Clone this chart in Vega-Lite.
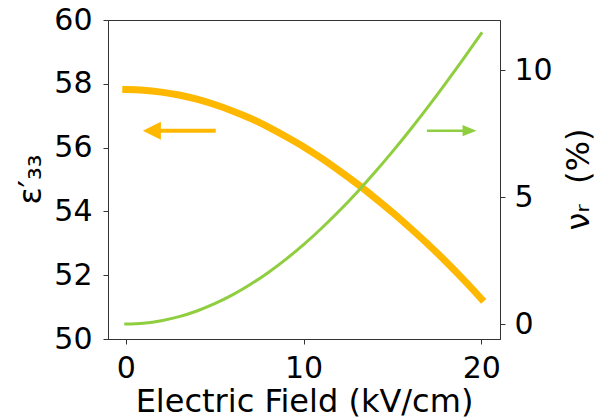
{
  "$schema": "https://vega.github.io/schema/vega-lite/v6.json",
  "width": 392,
  "height": 319,
  "autosize": "none",
  "padding": {"left": 108, "top": 20, "right": 105, "bottom": 79},
  "background": "white",
  "config": {
    "view": {"stroke": "#333", "strokeWidth": 1},
    "axis": {
      "labelFont": "DejaVu Sans",
      "titleFont": "DejaVu Sans",
      "labelFontSize": 30,
      "titleFontSize": 32,
      "titleFontWeight": "normal",
      "labelColor": "#000",
      "titleColor": "#000",
      "grid": false,
      "domainColor": "#333",
      "tickColor": "#333",
      "tickSize": 5,
      "labelFlush": false,
      "labelOverlap": false
    }
  },
  "datasets": {
    "eps": [
      {"E": 0, "eps": 57.82}, {"E": 1, "eps": 57.8}, {"E": 2, "eps": 57.74}, {"E": 3, "eps": 57.65},
      {"E": 4, "eps": 57.52}, {"E": 5, "eps": 57.35}, {"E": 6, "eps": 57.15}, {"E": 7, "eps": 56.92},
      {"E": 8, "eps": 56.65}, {"E": 9, "eps": 56.35}, {"E": 10, "eps": 56.03}, {"E": 11, "eps": 55.67},
      {"E": 12, "eps": 55.28}, {"E": 13, "eps": 54.87}, {"E": 14, "eps": 54.43}, {"E": 15, "eps": 53.97},
      {"E": 16, "eps": 53.48}, {"E": 17, "eps": 52.97}, {"E": 18, "eps": 52.43}, {"E": 19, "eps": 51.86},
      {"E": 20, "eps": 51.26}
    ],
    "nu": [
      {"E": 0, "nu": 0}, {"E": 1, "nu": 0.032}, {"E": 2, "nu": 0.128}, {"E": 3, "nu": 0.289},
      {"E": 4, "nu": 0.513}, {"E": 5, "nu": 0.799}, {"E": 6, "nu": 1.147}, {"E": 7, "nu": 1.555},
      {"E": 8, "nu": 2.022}, {"E": 9, "nu": 2.547}, {"E": 10, "nu": 3.128}, {"E": 11, "nu": 3.762},
      {"E": 12, "nu": 4.447}, {"E": 13, "nu": 5.182}, {"E": 14, "nu": 5.962}, {"E": 15, "nu": 6.786},
      {"E": 16, "nu": 7.65}, {"E": 17, "nu": 8.551}, {"E": 18, "nu": 9.486}, {"E": 19, "nu": 10.449},
      {"E": 20, "nu": 11.439}
    ],
    "arrowL": [{"tail": 5.06, "base": 1.9, "tip": 0.96, "eps": 56.53}],
    "arrowR": [{"tail": 16.94, "base": 19.0, "tip": 19.73, "eps": 56.53}]
  },
  "resolve": {"scale": {"y": "independent"}},
  "layer": [
    {
      "encoding": {
        "y": {
          "field": "eps",
          "type": "quantitative",
          "scale": {"domain": [50, 60], "nice": false, "zero": false},
          "axis": {
            "title": "ε′₃₃",
            "values": [50, 52, 54, 56, 58, 60],
            "labelPadding": 11,
            "titleAngle": -90,
            "titleAlign": "center",
            "titleBaseline": "middle",
            "titleX": -78,
            "titleY": 159
          }
        }
      },
      "layer": [
        {
          "data": {"name": "eps"},
          "mark": {"type": "line", "color": "#FFB800", "strokeWidth": 7, "strokeCap": "square", "interpolate": "monotone"},
          "encoding": {
            "x": {
              "field": "E",
              "type": "quantitative",
              "title": "Electric Field (kV/cm)",
              "scale": {"domain": [-1, 21.05], "nice": false, "zero": false},
              "axis": {
                "values": [0, 10, 20],
                "labelPadding": 33,
                "labelBaseline": "alphabetic",
                "titleX": 196,
                "titleY": 72,
                "titleBaseline": "alphabetic",
                "titleAlign": "center"
              }
            }
          }
        },
        {
          "data": {"name": "arrowL"},
          "mark": {"type": "rule", "color": "#FFB800", "strokeWidth": 4},
          "encoding": {
            "x": {"field": "tail", "type": "quantitative", "title": "Electric Field (kV/cm)"},
            "x2": {"field": "base"}
          }
        },
        {
          "data": {"name": "arrowL"},
          "mark": {"type": "point", "shape": "M0,0L2,-1L2,1Z", "size": 324, "filled": true, "opacity": 1, "color": "#FFB800", "strokeWidth": 0},
          "encoding": {
            "x": {"field": "tip", "type": "quantitative", "title": "Electric Field (kV/cm)"}
          }
        },
        {
          "data": {"name": "arrowR"},
          "mark": {"type": "rule", "color": "#8FCE3F", "strokeWidth": 2.5},
          "encoding": {
            "x": {"field": "tail", "type": "quantitative", "title": "Electric Field (kV/cm)"},
            "x2": {"field": "base"}
          }
        },
        {
          "data": {"name": "arrowR"},
          "mark": {"type": "point", "shape": "M0,0L-2,-0.8L-2,0.8Z", "size": 196, "filled": true, "opacity": 1, "color": "#8FCE3F", "strokeWidth": 0},
          "encoding": {
            "x": {"field": "tip", "type": "quantitative", "title": "Electric Field (kV/cm)"}
          }
        }
      ]
    },
    {
      "data": {"name": "nu"},
      "mark": {"type": "line", "color": "#8FCE3F", "strokeWidth": 3, "strokeCap": "square", "interpolate": "monotone"},
      "encoding": {
        "x": {"field": "E", "type": "quantitative", "title": "Electric Field (kV/cm)"},
        "y": {
          "field": "nu",
          "type": "quantitative",
          "scale": {"domain": [-0.59, 11.97], "nice": false, "zero": false},
          "axis": {
            "orient": "right",
            "title": "νᵣ\u00a0 (%)",
            "values": [0, 5, 10],
            "labelPadding": 9,
            "titleAngle": -90,
            "titleAlign": "center",
            "titleBaseline": "middle",
            "titleX": 78,
            "titleY": 159
          }
        }
      }
    }
  ]
}
